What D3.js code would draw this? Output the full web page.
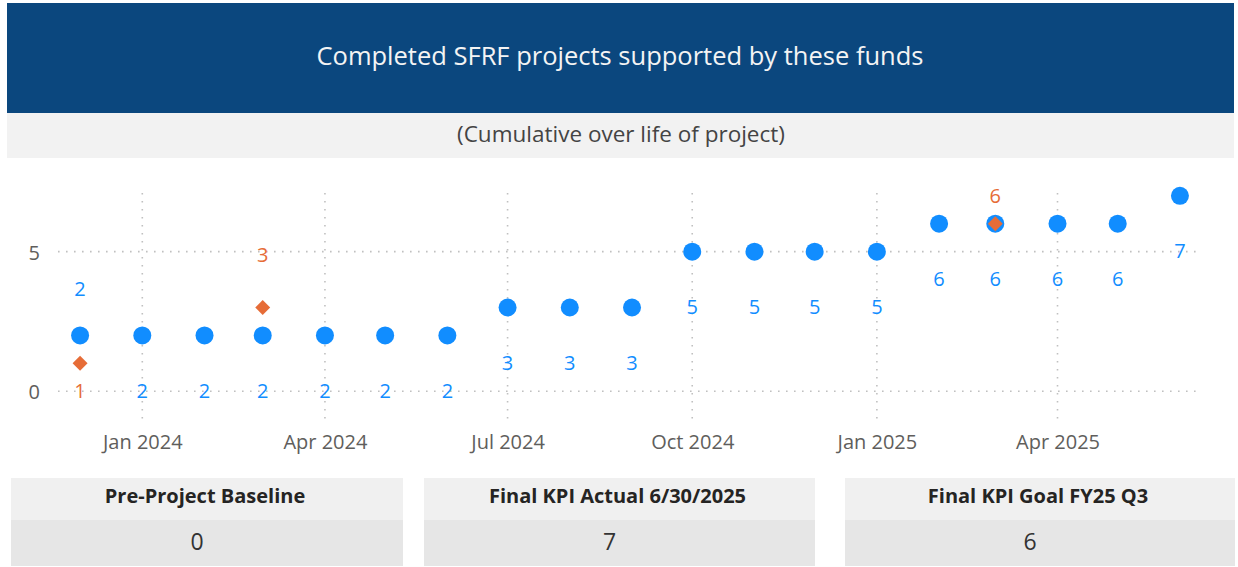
<!DOCTYPE html>
<html>
<head>
<meta charset="utf-8">
<script src="https://cdn.jsdelivr.net/npm/d3@7"></script>
<style>
  html, body { margin: 0; padding: 0; background: #ffffff; }
  svg { display: block; font-family: 'Open Sans', 'Noto Sans', sans-serif; }
</style>
</head>
<body>
<svg id="chart" width="1238" height="567"></svg>
<script>

// chart data
var months = ['2023-12', '2024-01', '2024-02', '2024-03', '2024-04', '2024-05', '2024-06',
              '2024-07', '2024-08', '2024-09', '2024-10', '2024-11', '2024-12',
              '2025-01', '2025-02', '2025-03', '2025-04', '2025-05', '2025-06'];
var actualValues = [2, 2, 2, 2, 2, 2, 2, 3, 3, 3, 5, 5, 5, 5, 6, 6, 6, 6, 7];

var goalMonths = ['2023-12', '2024-03', '2025-03'];
var goalValues = [1, 3, 6];

var yTicks = [0, 5];

var titleText = 'Completed SFRF projects supported by these funds';
var subtitleText = '(Cumulative over life of project)';

var cardTitles = ['Pre-Project Baseline', 'Final KPI Actual 6/30/2025', 'Final KPI Goal FY25 Q3'];
var cardValues = [0, 7, 6];

var blue = '#118DFF';
var orange = '#E66C37';
var parseMonth = d3.timeParse('%Y-%m');

var svg = d3.select('#chart');

// 1. Header bands
svg.append('rect').attr('x', 7).attr('y', 3).attr('width', 1227).attr('height', 110).style('fill', '#0B477E');
svg.append('text')
	.attr('x', 620).attr('y', 55)
	.attr('text-anchor', 'middle').attr('dominant-baseline', 'central')
	.style('fill', '#f4f4f4').style('font-size', '25.5px')
	.text(titleText);

svg.append('rect').attr('x', 7).attr('y', 113).attr('width', 1227).attr('height', 45).style('fill', '#f2f2f2');
svg.append('text')
	.attr('x', 621).attr('y', 133)
	.attr('text-anchor', 'middle').attr('dominant-baseline', 'central')
	.style('fill', '#444').style('font-size', '22.5px')
	.text(subtitleText);

// 2. Scales
var actual = months.map(function(m, i) { return {date: parseMonth(m), value: actualValues[i]}; });
var goals = goalMonths.map(function(m, i) { return {date: parseMonth(m), value: goalValues[i]}; });

var x = d3.scaleTime()
		.domain([d3.timeDay.offset(actual[0].date, -11), d3.timeDay.offset(actual[actual.length - 1].date, 9)])
		.range([58, 1198]);

var y = d3.scaleLinear().domain([-1.1, 7.1]).range([422, 193]);

var g = svg.append('g');

// Gridlines
g.selectAll('.hgrid').data(yTicks).enter().append('line')
		.attr('x1', x.range()[0]).attr('x2', x.range()[1])
		.attr('y1', function(d) { return y(d); }).attr('y2', function(d) { return y(d); })
		.style('stroke', '#c0c0c0').style('stroke-width', 1.6).style('stroke-dasharray', '1.6,6.4');

var xTicks = x.ticks(d3.timeMonth.every(3));
g.selectAll('.vgrid').data(xTicks).enter().append('line')
		.attr('x1', function(d) { return x(d); }).attr('x2', function(d) { return x(d); })
		.attr('y1', y.range()[1]).attr('y2', y.range()[0])
		.style('stroke', '#c0c0c0').style('stroke-width', 1.6).style('stroke-dasharray', '1.6,6.4');

// Axes (labels only)
var xAxis = g.append('g').attr('transform', 'translate(0,' + 441 + ')')
		.call(d3.axisBottom(x).tickValues(xTicks).tickFormat(d3.timeFormat('%b %Y')).tickSize(0).tickPadding(0));
xAxis.select('.domain').remove();
xAxis.selectAll('text')
		.attr('dy', null).attr('dominant-baseline', 'central')
		.style('fill', '#605E5C').style('font-size', '20px').style('font-family', "'Open Sans', sans-serif");

var yAxis = g.append('g').attr('transform', 'translate(' + 40 + ',0)')
		.call(d3.axisLeft(y).tickValues(yTicks).tickSize(0).tickPadding(0));
yAxis.select('.domain').remove();
yAxis.selectAll('text')
		.attr('dy', null).attr('dominant-baseline', 'central')
		.style('fill', '#605E5C').style('font-size', '20px').style('font-family', "'Open Sans', sans-serif");

// 3. Marks
var goalFor = function(d) {
	var found = goals.filter(function(gl) { return +gl.date == +d.date; });
	return found.length ? found[0] : null;
};

g.selectAll('.actualDot').data(actual).enter().append('circle')
		.attr('class', 'actualDot')
		.attr('cx', function(d) { return x(d.date); })
		.attr('cy', function(d) { return y(d.value); })
		.attr('r', 9)
		.style('fill', blue);

g.selectAll('.goalMark').data(goals).enter().append('path')
		.attr('class', 'goalMark')
		.attr('d', d3.symbol().type(d3.symbolSquare).size(112))
		.attr('transform', function(d) { return 'translate(' + x(d.date) + ',' + y(d.value) + ') rotate(45)'; })
		.style('fill', orange);

// Data labels
g.selectAll('.actualLabel').data(actual).enter().append('text')
		.attr('text-anchor', 'middle').attr('dominant-baseline', 'central')
		.attr('x', function(d) { return x(d.date); })
		.attr('y', function(d) {
			var gl = goalFor(d);
			if (gl != null && gl.value < d.value) return y(d.value) - 47;
			return y(d.value) + 55;
		})
		.style('fill', blue).style('font-size', '20px')
		.text(function(d) { return d.value; });

g.selectAll('.goalLabel').data(goals).enter().append('text')
		.attr('text-anchor', 'middle').attr('dominant-baseline', 'central')
		.attr('x', function(d) { return x(d.date); })
		.attr('y', function(d) {
			var a = actual.filter(function(p) { return +p.date == +d.date; })[0];
			if (d.value < a.value) return y(d.value) + 27;
			if (d.value > a.value) return y(d.value) - 53;
			return y(d.value) - 28;
		})
		.style('fill', orange).style('font-size', '20px')
		.text(function(d) { return d.value; });

// 4. KPI cards
var cardX = [11, 424, 845];
var cardW = [392, 391, 390];

cardTitles.forEach(function(t, i) {
	var c = svg.append('g').attr('transform', 'translate(' + cardX[i] + ',478)');
	c.append('rect').attr('width', cardW[i]).attr('height', 42).style('fill', '#f0f0f0');
	c.append('rect').attr('y', 42).attr('width', cardW[i]).attr('height', 46).style('fill', '#e6e6e6');
	c.append('text')
		.attr('x', cardW[i] / 2 - 2).attr('y', 17)
		.attr('text-anchor', 'middle').attr('dominant-baseline', 'central')
		.style('fill', '#252423').style('font-size', '20px').style('font-weight', 'bold')
		.text(t);
	c.append('text')
		.attr('x', cardW[i] / 2 - 10).attr('y', 63)
		.attr('text-anchor', 'middle').attr('dominant-baseline', 'central')
		.style('fill', '#333').style('font-size', '23px')
		.text(cardValues[i]);
});

</script>
</body>
</html>
